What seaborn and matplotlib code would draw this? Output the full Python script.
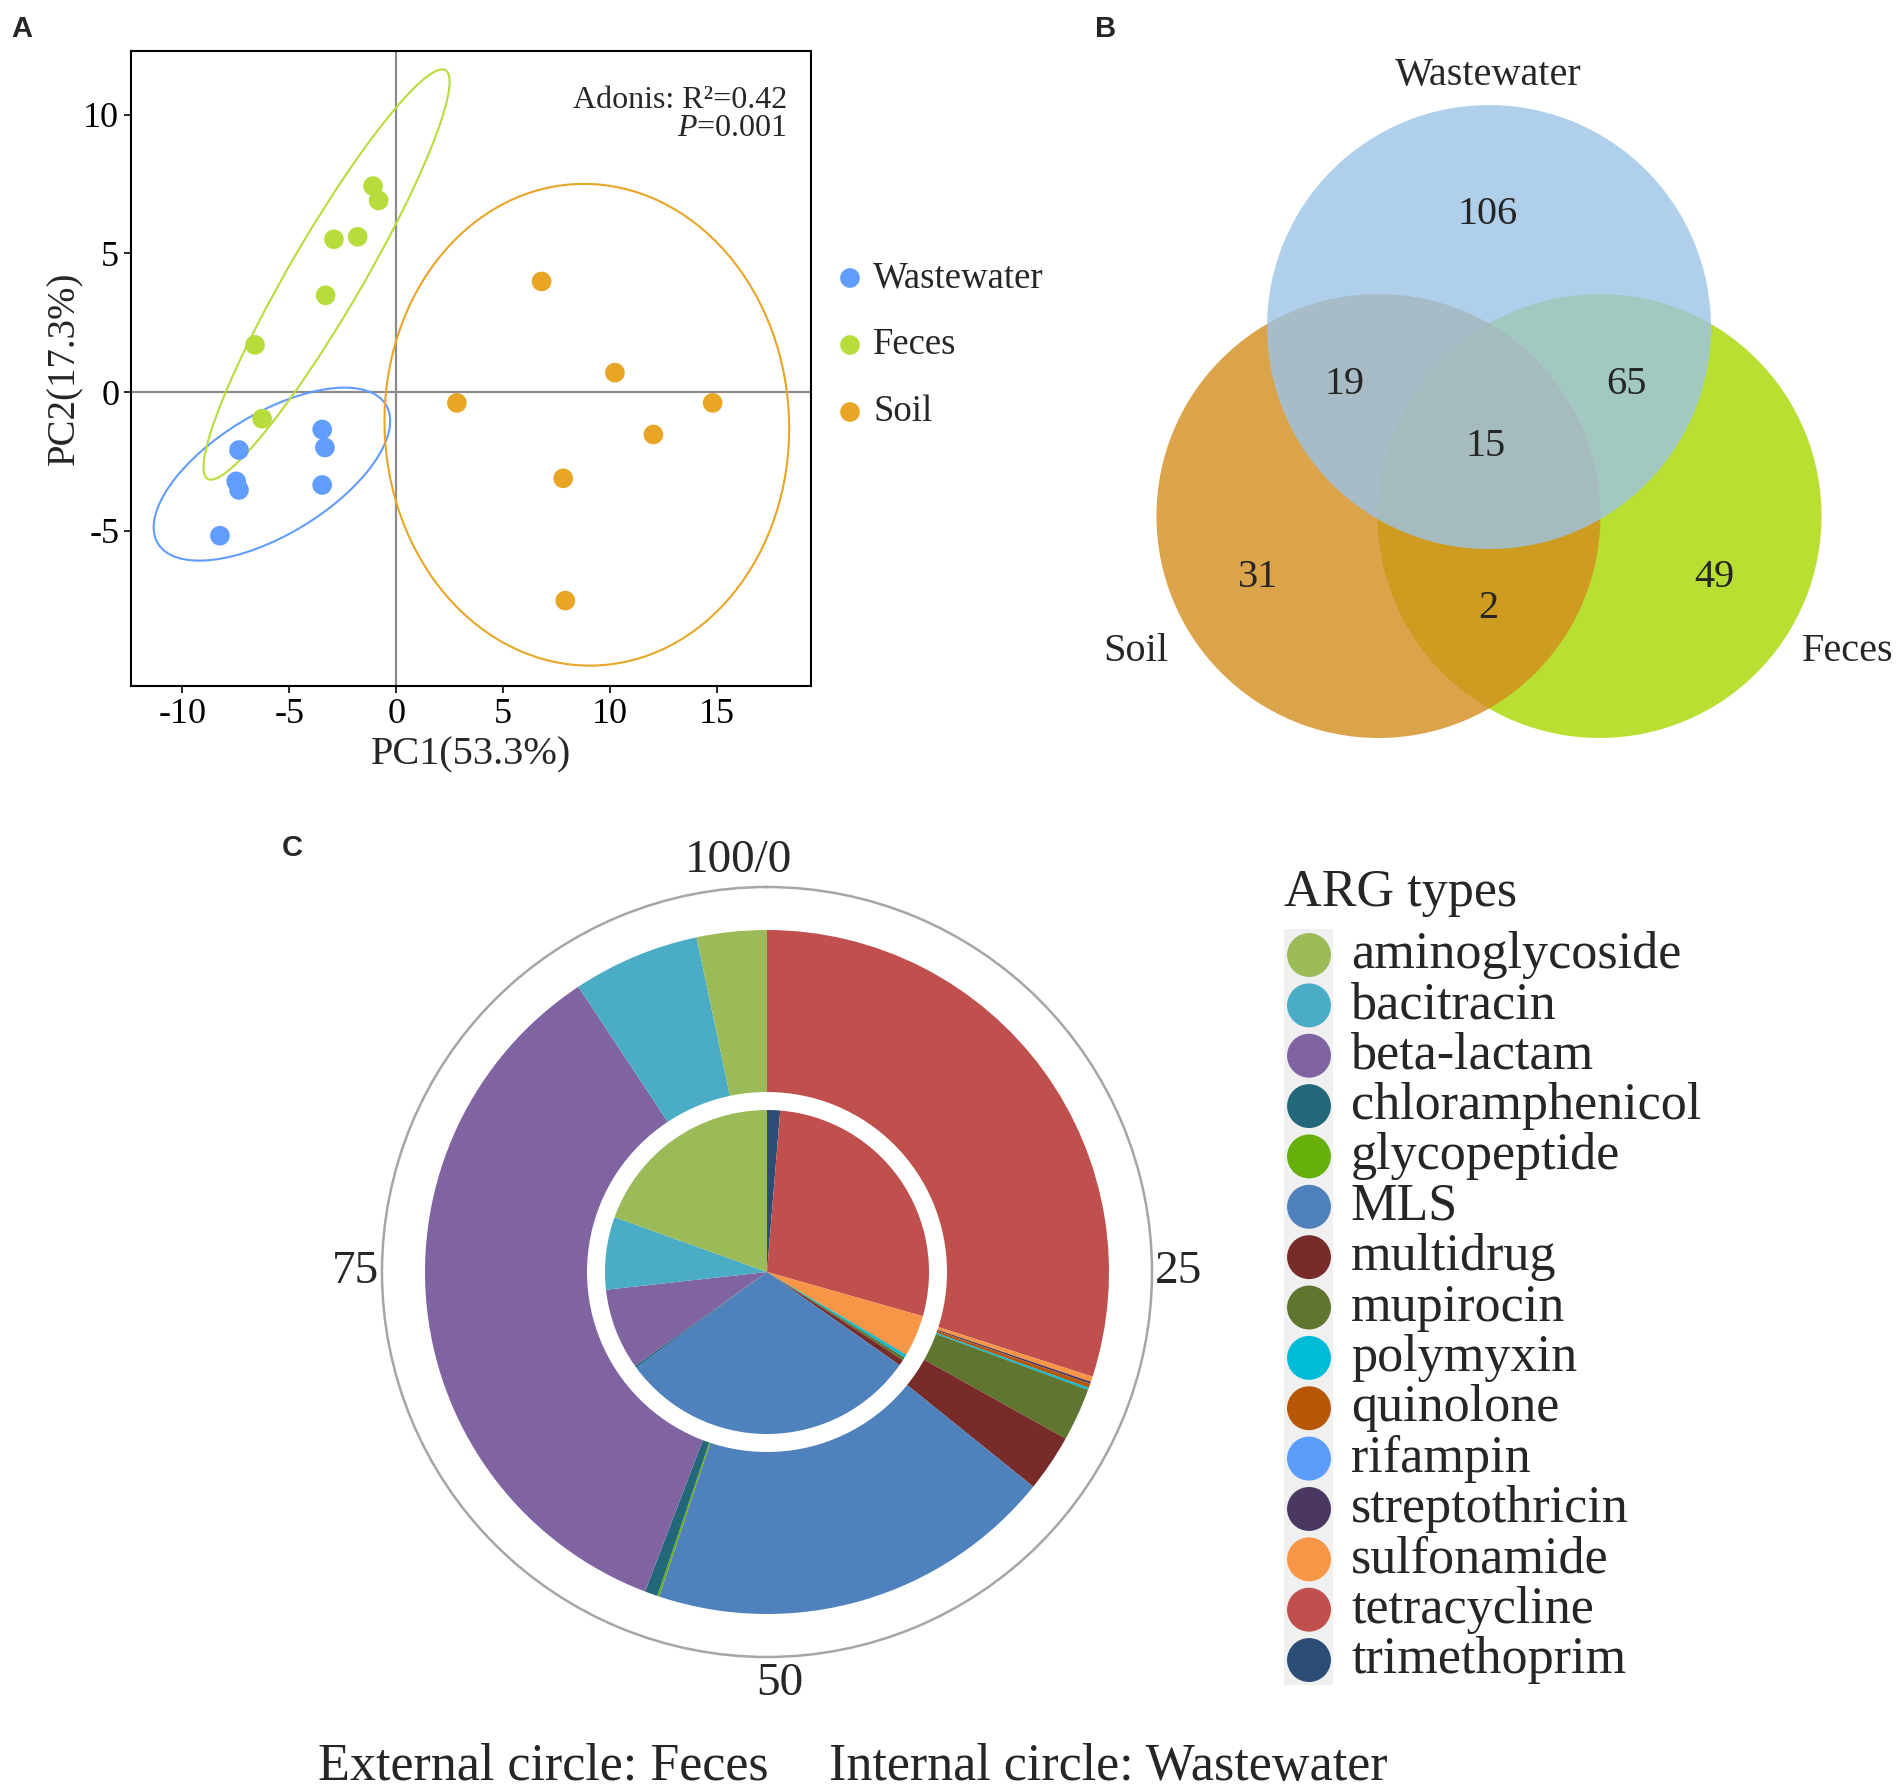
import numpy as np
import pandas as pd
import matplotlib
matplotlib.use("Agg")
import matplotlib.pyplot as plt
import seaborn as sns
from matplotlib.patches import Ellipse, Circle, Rectangle
from matplotlib.transforms import ScaledTranslation

sns.set_theme(style="white")
plt.rcParams['font.family'] = ['Liberation Serif', 'DejaVu Serif']
plt.rcParams['mathtext.fontset'] = 'custom'
plt.rcParams['mathtext.rm'] = 'Liberation Serif'
plt.rcParams['mathtext.it'] = 'Liberation Serif:italic'

# ---------------- data ----------------
groups = ["Wastewater", "Feces", "Soil"]
group_colors = ["#619CFF", "#B8DC3C", "#E9A526"]
ww_pc1 = [-8.24, -7.35, -7.48, -7.35, -3.46, -3.33, -3.46]
ww_pc2 = [-5.18, -2.09, -3.22, -3.53, -1.35, -2.00, -3.35]
fe_pc1 = [-1.08, -0.82, -2.91, -1.80, -3.30, -6.60, -6.27]
fe_pc2 = [7.43, 6.91, 5.51, 5.60, 3.49, 1.70, -0.96]
so_pc1 = [6.80, 10.23, 2.84, 14.80, 12.03, 7.81, 7.91]
so_pc2 = [3.99, 0.70, -0.39, -0.39, -1.53, -3.11, -7.52]
x_ticks = [-10, -5, 0, 5, 10, 15]
y_ticks = [-5, 0, 5, 10]

venn_sets = ["Wastewater", "Soil", "Feces"]
venn_colors = ["#9CC3E7", "#D38C1D", "#A9D700"]
venn_regions = ["W", "WS", "WF", "WSF", "S", "SF", "F"]
venn_counts = [106, 19, 65, 15, 31, 2, 49]

arg_types = ["aminoglycoside", "bacitracin", "beta-lactam", "chloramphenicol",
             "glycopeptide", "MLS", "multidrug", "mupirocin", "polymyxin",
             "quinolone", "rifampin", "streptothricin", "sulfonamide",
             "tetracycline", "trimethoprim"]
arg_colors = ["#9BBB59", "#4BACC6", "#8064A2", "#23687A", "#67B00C", "#4F81BD",
              "#772C2A", "#5F7530", "#00BCD8", "#B65708", "#5C9CFA", "#4A3860",
              "#F79646", "#C0504D", "#2C4D75"]
feces_pct = [3.3, 6.0, 34.9, 0.6, 0.1, 19.3, 2.7, 2.5, 0.1, 0.2, 0.0, 0.1, 0.25, 29.95, 0.0]
wastewater_pct = [19.5, 7.25, 8.1, 0.2, 0.0, 30.2, 0.6, 0.3, 0.3, 0.05, 0.0, 0.0, 4.1, 28.1, 1.3]
polar_ticks = [0, 25, 50, 75]
polar_labels = ["100/0", "25", "50", "75"]

# ---------------- figure ----------------
W, H, DPI = 1904, 1792, 100
fig = plt.figure(figsize=(W / DPI, H / DPI), dpi=DPI)

def frac(x0, y0, x1, y1):
    return [x0 / W, 1 - y1 / H, (x1 - x0) / W, (y1 - y0) / H]

# ---------------- panel A ----------------
axA = fig.add_axes(frac(131, 51, 811, 686))
df = pd.DataFrame({
    "PC1": ww_pc1 + fe_pc1 + so_pc1,
    "PC2": ww_pc2 + fe_pc2 + so_pc2,
    "group": ["Wastewater"] * len(ww_pc1) + ["Feces"] * len(fe_pc1) + ["Soil"] * len(so_pc1),
})
pal = dict(zip(groups, group_colors))
axA.axhline(0, color="#8C8C8C", lw=1.6, zorder=1)
axA.axvline(0, color="#8C8C8C", lw=1.6, zorder=1)
sns.scatterplot(data=df, x="PC1", y="PC2", hue="group", palette=pal, s=200,
                edgecolor="none", legend=False, ax=axA, zorder=3)
chi2_95 = -2 * np.log(1 - 0.95)
for g in groups:
    sub = df[df.group == g]
    cov = np.cov(sub.PC1, sub.PC2)
    vals, vecs = np.linalg.eigh(cov)
    order = vals.argsort()[::-1]
    vals, vecs = vals[order], vecs[:, order]
    ang = np.degrees(np.arctan2(vecs[1, 0], vecs[0, 0]))
    e = Ellipse((sub.PC1.mean(), sub.PC2.mean()), 2 * np.sqrt(vals[0] * chi2_95),
                2 * np.sqrt(vals[1] * chi2_95), angle=ang, fill=False,
                edgecolor=pal[g], lw=1.5, zorder=2)
    axA.add_patch(e)
axA.set_xlim(-12.4, 19.4)
axA.set_ylim(-10.6, 12.3)
axA.set_xticks(x_ticks)
axA.set_yticks(y_ticks)
axA.set_xticklabels([str(t) for t in x_ticks])
axA.set_yticklabels([str(t) for t in y_ticks])
axA.tick_params(axis="both", labelsize=26, length=5, width=1.2, direction="out",
                colors="black", bottom=True, left=True)
for sp in axA.spines.values():
    sp.set_color("black")
    sp.set_linewidth(1.5)
axA.set_xlabel("PC1(53.3%)", fontsize=29, labelpad=4)
axA.set_ylabel("PC2(17.3%)", fontsize=28, labelpad=0)
axA.text(0.965, 0.90, "Adonis: R\u00b2=0.42\n$\\it{P}$=0.001", transform=axA.transAxes,
         ha="right", va="center", multialignment="right", linespacing=0.95,
         fontsize=23)

# ---------------- overlay (text, legends) ----------------
ov = fig.add_axes([0, 0, 1, 1])
ov.set_xlim(0, W)
ov.set_ylim(H, 0)
ov.axis("off")
ov.patch.set_alpha(0)

for i, g in enumerate(groups):
    y = 278 + i * 67
    ov.scatter([850], [y], s=200, color=group_colors[i], edgecolor="none")
    ov.text(873, y, g, fontsize=26.5, va="center", ha="left")

for lab, (x, y) in zip(["A", "B", "C"], [(22, 29), (1106, 29), (292, 848)]):
    ov.text(x, y, lab, fontsize=21, fontweight="bold", family="Liberation Sans",
            ha="center", va="center")

# ---------------- panel B (Venn) ----------------
axB = fig.add_axes(frac(1090, 40, 1904, 790))
axB.set_xlim(1090, 1904)
axB.set_ylim(790, 40)
axB.axis("off")
r = 222
cx, cy = 1489, 516
centers = {"Wastewater": (cx, cy - 0.851 * r), "Soil": (cx - 0.498 * r, cy),
           "Feces": (cx + 0.498 * r, cy)}
for name in ["Feces", "Soil", "Wastewater"]:
    col = venn_colors[venn_sets.index(name)]
    axB.add_patch(Circle(centers[name], r, facecolor=col, edgecolor="none", alpha=0.8))
region_pos = {"W": (1488, 214), "WS": (1344, 384), "WF": (1626, 384), "WSF": (1486, 446),
              "S": (1258, 577), "SF": (1488, 608), "F": (1714, 577)}
for reg, cnt in zip(venn_regions, venn_counts):
    x, y = region_pos[reg]
    axB.text(x, y, str(cnt), fontsize=29, ha="center", va="center")
for name, (x, y) in zip(venn_sets, [(1488, 75), (1136, 651), (1848, 651)]):
    axB.text(x, y, name, fontsize=29, ha="center", va="center")

# ---------------- panel C (nested pie) ----------------
axC = fig.add_axes(frac(382, 887, 1152, 1657), projection="polar")
axC.set_theta_zero_location("N")
axC.set_theta_direction(-1)
order = list(range(len(arg_types)))[::-1]

def ring(vals, height):
    start = 0.0
    for idx in order:
        v = vals[idx]
        if v > 0:
            axC.bar(2 * np.pi * start / 100, height, width=2 * np.pi * v / 100,
                    bottom=0, align="edge", color=arg_colors[idx], linewidth=0)
        start += v

ring(feces_pct, 342)
axC.bar(0, 180, width=2 * np.pi, bottom=0, align="edge", color="white", linewidth=0)
ring(wastewater_pct, 162)
axC.set_ylim(0, 385)
axC.set_yticks([])
axC.set_xticks([2 * np.pi * t / 100 for t in polar_ticks])
axC.set_xticklabels(polar_labels, fontsize=34)
axC.tick_params(axis="x", pad=6)
axC.grid(False)
axC.spines["polar"].set_color("#A6A6A6")
axC.spines["polar"].set_linewidth(1.8)
axC.set_facecolor("white")
shifts = [-0.29, 0.0, 0.13, 0.0]
for lbl, dx in zip(axC.get_xticklabels(), shifts):
    lbl.set_transform(lbl.get_transform() + ScaledTranslation(dx, 0, fig.dpi_scale_trans))

# legend C
ov.text(1284, 893, "ARG types", fontsize=37.5, ha="left", va="center")
ov.add_patch(Rectangle((1284, 929), 49, 756, facecolor="#F0F0F0", edgecolor="none"))
for i, (name, col) in enumerate(zip(arg_types, arg_colors)):
    y = 955 + i * 50.36
    ov.scatter([1309], [y], s=1000, color=col, edgecolor="none")
    ov.text(1351, y, name, fontsize=37.5, ha="left", va="center")

ov.text(318, 1767, "External circle: Feces", fontsize=37.5, ha="left", va="center")
ov.text(829, 1767, "Internal circle: Wastewater", fontsize=37.5, ha="left", va="center")

fig.savefig("out.png", dpi=DPI)
